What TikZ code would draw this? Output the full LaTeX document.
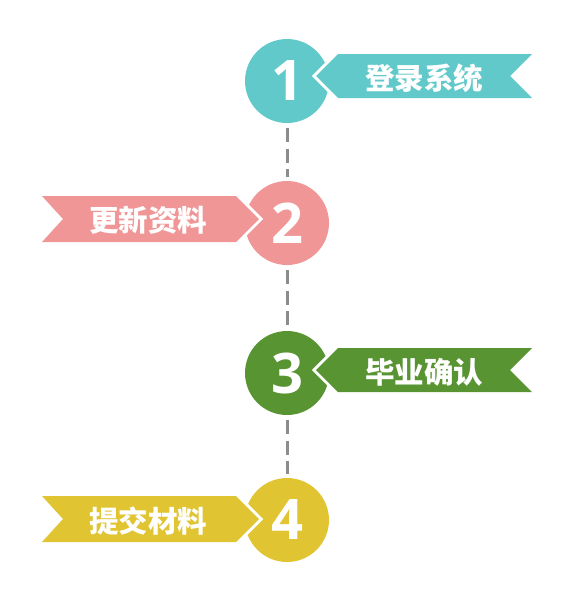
\documentclass[tikz,border=0pt]{standalone}
\usepackage{fontspec}
\newfontfamily\cjk{Noto Sans CJK SC}
\newfontfamily\numfont{Open Sans}
\definecolor{cteal}{RGB}{98,201,203}
\definecolor{cpink}{RGB}{240,150,150}
\definecolor{cgreen}{RGB}{88,148,50}
\definecolor{cyellow}{RGB}{224,196,50}
\definecolor{cdash}{RGB}{140,140,140}
\tikzset{
  stepcircle/.style={circle, minimum size=84pt, inner sep=0pt, fill=#1,
    text=white, font=\numfont\bfseries\fontsize{56}{56}\selectfont},
  cut/.style={draw=white, line width=6pt, line join=miter},
  label/.style={text=white, font=\cjk\bfseries\fontsize{29.5}{29.5}\selectfont, inner sep=0pt},
  link/.style={draw=cdash, line width=3pt, dash pattern=on 14pt off 6.5pt, shorten <=5pt, shorten >=4pt}
}
\begin{document}
\begin{tikzpicture}[x=1pt,y=-1pt]
\useasboundingbox (0,0) rectangle (573,600);
% circles
\node[stepcircle=cteal]   (c1) at (287,81)  {1};
\node[stepcircle=cpink]   (c2) at (287,223) {2};
\node[stepcircle=cgreen]  (c3) at (287,373) {3};
\node[stepcircle=cyellow] (c4) at (287,520) {4};
% banner 1 (right)
\path[cut] (316,76) -- (338,54) -- (532,54) -- (510,76) -- (532,98) -- (338,98) -- cycle;
\fill[cteal] (316,76) -- (338,54) -- (532,54) -- (510,76) -- (532,98) -- (338,98) -- cycle;
\node[label] (t1) at (424,78) {登录系统};
% banner 2 (left)
\path[cut] (42,196) -- (236,196) -- (259,219) -- (236,242) -- (42,242) -- (63,219) -- cycle;
\fill[cpink] (42,196) -- (236,196) -- (259,219) -- (236,242) -- (42,242) -- (63,219) -- cycle;
\node[label] (t2) at (148,220) {更新资料};
% banner 3 (right)
\path[cut] (316,370) -- (338,348) -- (532,348) -- (510,370) -- (532,392) -- (338,392) -- cycle;
\fill[cgreen] (316,370) -- (338,348) -- (532,348) -- (510,370) -- (532,392) -- (338,392) -- cycle;
\node[label] (t3) at (424,372) {毕业确认};
% banner 4 (left)
\path[cut] (42,496) -- (236,496) -- (259,519) -- (236,542) -- (42,542) -- (63,519) -- cycle;
\fill[cyellow] (42,496) -- (236,496) -- (259,519) -- (236,542) -- (42,542) -- (63,519) -- cycle;
\node[label] (t4) at (148,521) {提交材料};
% dashed links
\draw[link] (c1) -- (c2);
\draw[link] (c2) -- (c3);
\draw[link] (c3) -- (c4);
\end{tikzpicture}
\end{document}
